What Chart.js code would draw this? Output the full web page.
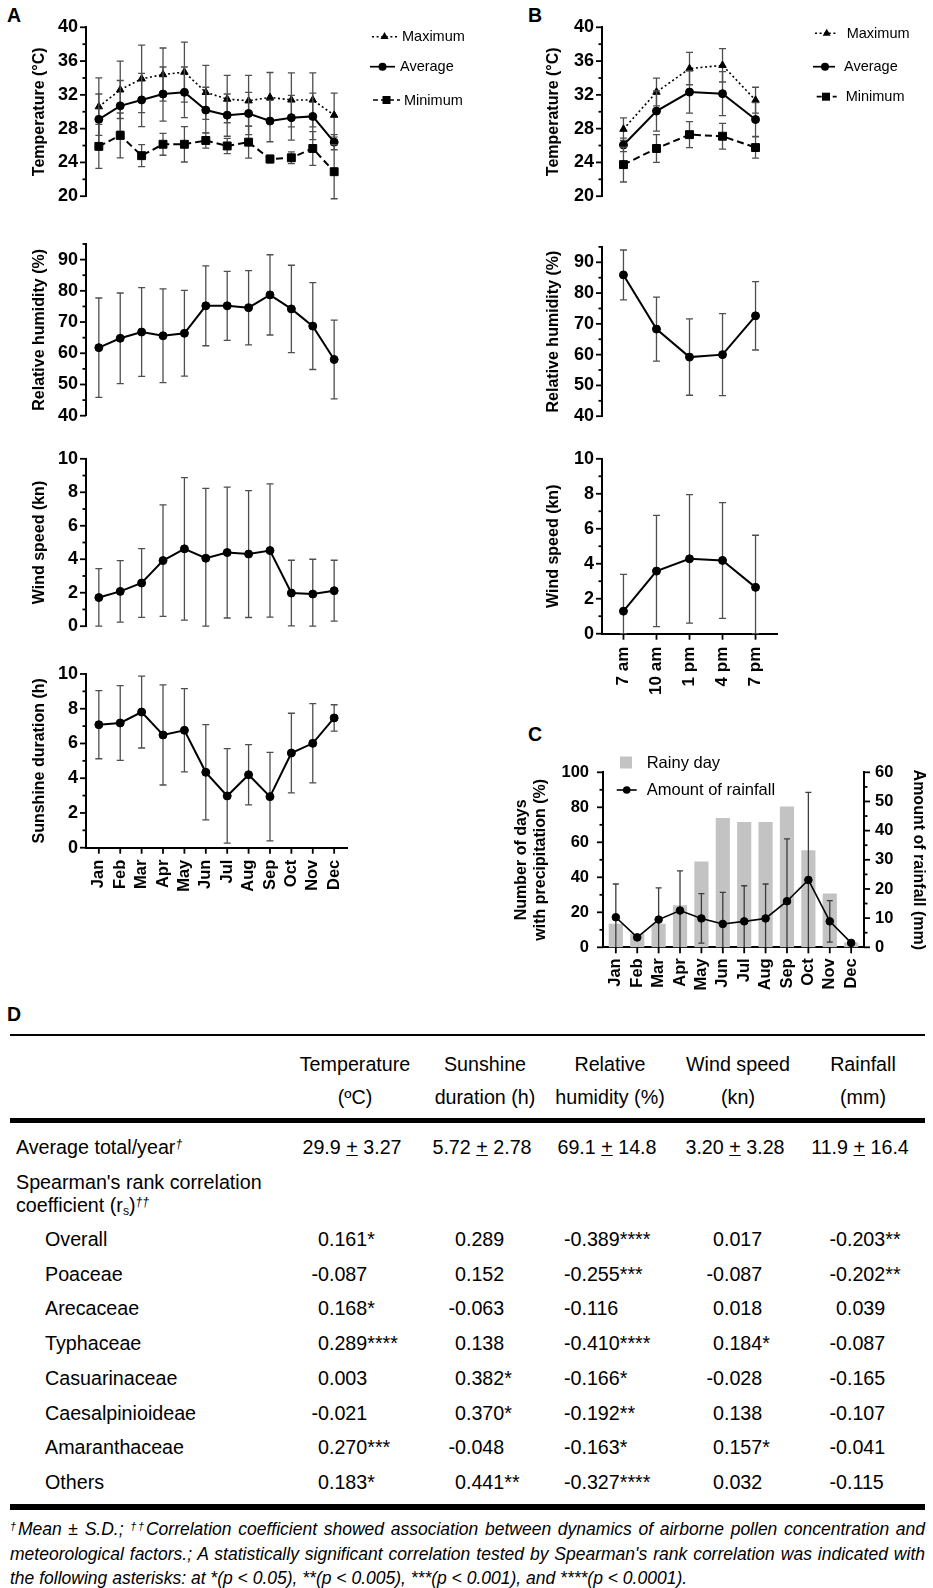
<!DOCTYPE html>
<html>
<head>
<meta charset="utf-8">
<title>Meteorological factors and pollen correlation</title>
<script src="https://cdn.jsdelivr.net/npm/chart.js@4.4.1/dist/chart.umd.min.js"></script>
<style>
  html, body { margin:0; padding:0; background:#fff; }
  body { position:relative; width:933px; height:1588px; overflow:hidden; font-family:"Liberation Sans", Arial, sans-serif; color:#000; }
  .box { position:absolute; }
  .box canvas { display:block; }
  .panel { position:absolute; font-weight:bold; font-size:19.5px; line-height:1; }
  .cell { position:absolute; font-size:19.7px; line-height:24px; white-space:nowrap; }
  .ctr { width:220px; text-align:center; }
  .rule { position:absolute; left:10px; width:915px; background:#000; }
  .neg { position:absolute; right:100%; top:0; }
  .note { position:absolute; left:10px; width:915px; font-size:17.5px; font-style:italic; line-height:24.5px; }
  .note div { text-align:justify; text-align-last:justify; }
  .note div.last { text-align-last:left; }
  sup.d { font-size:0.62em; vertical-align:0.5em; line-height:0; font-style:italic; }
  sub.s { font-size:0.62em; vertical-align:-0.25em; line-height:0; }
</style>
</head>
<body>
<div class="panel" style="left:7px;top:5.5px">A</div>
<div class="panel" style="left:528px;top:5.5px">B</div>
<div class="panel" style="left:528px;top:724.5px">C</div>
<div class="panel" style="left:7px;top:1004.5px">D</div>

<div class="box" style="left:0;top:0;width:470px;height:215px"><canvas id="aTemp"></canvas></div>
<div class="box" style="left:0;top:225px;width:470px;height:210px"><canvas id="aHum"></canvas></div>
<div class="box" style="left:0;top:440px;width:470px;height:205px"><canvas id="aWind"></canvas></div>
<div class="box" style="left:0;top:650px;width:470px;height:250px"><canvas id="aSun"></canvas></div>
<div class="box" style="left:470px;top:0;width:463px;height:215px"><canvas id="bTemp"></canvas></div>
<div class="box" style="left:470px;top:225px;width:463px;height:210px"><canvas id="bHum"></canvas></div>
<div class="box" style="left:470px;top:440px;width:463px;height:270px"><canvas id="bWind"></canvas></div>
<div class="box" style="left:470px;top:700px;width:463px;height:300px"><canvas id="cRain"></canvas></div>

<div id="tableD"></div>

<script>
// ---------------- DATA ----------------
const months = ['Jan','Feb','Mar','Apr','May','Jun','Jul','Aug','Sep','Oct','Nov','Dec'];
const hours = ['7 am','10 am','1 pm','4 pm','7 pm'];

// Panel A (monthly)
const monthTempMax   = [30.6, 32.6, 33.9, 34.4, 34.7, 32.3, 31.5, 31.3, 31.7, 31.4, 31.4, 29.6];
const monthTempMaxSd = [3.4, 3.4, 4.0, 3.15, 3.55, 3.2, 2.8, 3.0, 2.95, 3.2, 3.2, 2.6];
const monthTempAvg   = [29.1, 30.7, 31.4, 32.1, 32.3, 30.2, 29.6, 29.8, 28.9, 29.3, 29.45, 26.4];
const monthTempAvgSd = [3.0, 3.0, 3.15, 3.2, 3.0, 2.7, 2.5, 2.5, 2.45, 2.65, 2.75, 0.9];
const monthTempMin   = [25.9, 27.2, 24.8, 26.15, 26.15, 26.6, 25.95, 26.4, 24.4, 24.55, 25.65, 22.9];
const monthTempMinSd = [2.6, 2.65, 1.3, 1.3, 2.1, 0.9, 0.9, 1.9, 0.45, 0.7, 2.0, 3.2];
const monthHumidity   = [61.8, 64.8, 66.8, 65.6, 66.4, 75.2, 75.2, 74.6, 78.7, 74.2, 68.7, 58.0];
const monthHumiditySd = [15.9, 14.5, 14.2, 15.0, 13.75, 12.8, 11.05, 11.9, 12.85, 14.0, 13.9, 12.6];
const monthWind   = [1.71, 2.08, 2.58, 3.92, 4.62, 4.06, 4.40, 4.31, 4.52, 1.98, 1.92, 2.12];
const monthWindSd = [1.73, 1.84, 2.05, 3.33, 4.26, 4.17, 3.91, 3.79, 3.98, 1.96, 2.08, 1.82];
const monthSunshine   = [7.08, 7.18, 7.81, 6.49, 6.76, 4.34, 2.98, 4.20, 2.94, 5.45, 6.01, 7.47];
const monthSunshineSd = [1.96, 2.15, 2.07, 2.88, 2.40, 2.74, 2.72, 1.73, 2.55, 2.29, 2.28, 0.76];

// Panel B (time of day)
const hourTempMax   = [27.94, 32.33, 35.11, 35.5, 31.37];
const hourTempMaxSd = [1.33, 1.64, 1.91, 1.98, 1.53];
const hourTempAvg   = [26.07, 30.08, 32.33, 32.14, 29.08];
const hourTempAvgSd = [0.8, 2.38, 2.5, 2.6, 2.0];
const hourTempMin   = [23.74, 25.65, 27.29, 27.1, 25.76];
const hourTempMinSd = [2.06, 1.65, 1.53, 1.53, 1.26];
const hourHumidity   = [85.9, 68.3, 59.2, 60.0, 72.6];
const hourHumiditySd = [8.1, 10.4, 12.4, 13.3, 11.1];
const hourWind   = [1.29, 3.58, 4.28, 4.19, 2.65];
const hourWindSd = [2.1, 3.18, 3.67, 3.31, 2.98];

// Panel C (monthly precipitation)
const rainyDays  = [13.3, 7.6, 13.3, 23.8, 48.9, 73.7, 71.4, 71.4, 80.3, 55.2, 30.5, 2.5];
const rainfall   = [10.3, 3.4, 9.5, 12.6, 9.9, 8.0, 8.9, 9.9, 15.8, 23.1, 8.9, 1.5];
const rainfallSd = [11.4, 0, 10.9, 13.6, 8.5, 10.8, 12.2, 11.8, 21.4, 30.0, 7.1, 0];

// Panel D (table)
const tableHeadTop    = ['Temperature', 'Sunshine', 'Relative', 'Wind speed', 'Rainfall'];
const tableHeadBottom = ['(ºC)', 'duration (h)', 'humidity (%)', '(kn)', '(mm)'];
const annualMean = ['29.9', '5.72', '69.1', '3.20', '11.9'];
const annualSd   = ['3.27', '2.78', '14.8', '3.28', '16.4'];
const taxa = ['Overall', 'Poaceae', 'Arecaceae', 'Typhaceae', 'Casuarinaceae', 'Caesalpinioideae', 'Amaranthaceae', 'Others'];
const rsTemperature = ['0.161*', '-0.087', '0.168*', '0.289****', '0.003', '-0.021', '0.270***', '0.183*'];
const rsSunshine    = ['0.289', '0.152', '-0.063', '0.138', '0.382*', '0.370*', '-0.048', '0.441**'];
const rsHumidity    = ['-0.389****', '-0.255***', '-0.116', '-0.410****', '-0.166*', '-0.192**', '-0.163*', '-0.327****'];
const rsWind        = ['0.017', '-0.087', '0.018', '0.184*', '-0.028', '0.138', '0.157*', '0.032'];
const rsRainfall    = ['-0.203**', '-0.202**', '0.039', '-0.087', '-0.165', '-0.107', '-0.041', '-0.115'];

// ---------------- CHART HELPERS ----------------
const FONT = '"Liberation Sans", Arial, sans-serif';
Chart.defaults.font.family = FONT;
Chart.defaults.color = '#000';

function tickList(min, max, major, minor) {
  const out = [];
  const n = Math.round((max - min) / minor);
  for (let k = 0; k <= n; k++) {
    const v = +(min + k * minor).toFixed(6);
    out.push({ value: v, mj: Math.abs(v / major - Math.round(v / major)) < 1e-6 });
  }
  return out;
}

function yScale(o) {
  return {
    type: 'linear', position: o.position || 'left', min: o.min, max: o.max,
    afterBuildTicks: s => { s.ticks = tickList(o.min, o.max, o.major, o.minor); },
    afterFit: s => { s.width = o.width; },
    grid: { display: false, drawTicks: false },
    border: { display: true, color: '#000', width: 2 },
    ticks: {
      autoSkip: false, color: '#000', padding: o.pad,
      font: { family: FONT, size: o.font, weight: 'bold' },
      callback: (v, i, t) => (t[i] && t[i].mj) ? String(v) : ''
    },
    title: {
      display: true, text: o.title, color: '#000',
      font: { family: FONT, size: 16, weight: 'bold' },
      padding: { top: o.titlePad, bottom: 0 }
    }
  };
}

function xScale(o) {
  const sc = {
    type: 'linear', min: o.lo, max: o.hi, offset: false, display: o.display,
    afterBuildTicks: s => { s.ticks = o.labels.map((_, i) => ({ value: i, mj: true })); },
    grid: { display: false, drawTicks: false },
    border: { display: true, color: '#000', width: 2 },
    ticks: {
      autoSkip: false, maxRotation: 90, minRotation: 90, padding: o.pad || 10, color: '#000',
      font: { family: FONT, size: o.font || 16.5, weight: 'bold' },
      callback: v => o.labels[Math.round(v)] ?? ''
    }
  };
  if (o.display) sc.afterFit = s => { s.height = o.height; };
  return sc;
}

const pts = arr => arr.map((v, i) => ({ x: i, y: v }));

function lineSet(values, sd, style, extra) {
  return Object.assign({
    type: 'line', data: pts(values), sd: sd,
    borderColor: '#000', backgroundColor: '#000', borderWidth: 2,
    pointStyle: style, pointRadius: 4, pointBorderWidth: 1,
    pointBackgroundColor: '#000', pointBorderColor: '#000',
    tension: 0, clip: false
  }, extra || {});
}

function marker(ctx, style, x, y, r, color) {
  ctx.fillStyle = color || '#000';
  ctx.beginPath();
  if (style === 'circle') ctx.arc(x, y, r, 0, Math.PI * 2);
  else if (style === 'triangle') { ctx.moveTo(x, y - r * 1.15); ctx.lineTo(x + r, y + r * 0.6); ctx.lineTo(x - r, y + r * 0.6); ctx.closePath(); }
  else ctx.rect(x - r, y - r, 2 * r, 2 * r);
  ctx.fill();
}

const legendSpecs = {};

const deco = {
  id: 'deco',
  beforeDatasetDraw(chart, args) {
    const ds = chart.data.datasets[args.index];
    if (!ds.sd) return;
    const meta = args.meta, ys = chart.scales[meta.yAxisID], ctx = chart.ctx;
    ctx.save();
    ctx.strokeStyle = ds.errColor || '#4f4f4f';
    ctx.lineWidth = ds.errWidth || 1.3;
    ctx.setLineDash([]);
    const cap = ds.capHalf || 3.5;
    meta.data.forEach((el, i) => {
      const s = ds.sd[i];
      if (!s) return;
      const v = ds.data[i].y;
      let lo = v - s; const hi = v + s;
      let capLo = true;
      if (ds.floor !== undefined && lo < ds.floor) { lo = ds.floor; capLo = ds.floorCap !== false; }
      const x = el.x, yHi = ys.getPixelForValue(hi), yLo = ys.getPixelForValue(lo);
      ctx.beginPath();
      ctx.moveTo(x, yHi); ctx.lineTo(x, yLo);
      ctx.moveTo(x - cap, yHi); ctx.lineTo(x + cap, yHi);
      if (capLo) { ctx.moveTo(x - cap, yLo); ctx.lineTo(x + cap, yLo); }
      ctx.stroke();
    });
    ctx.restore();
  },
  afterDraw(chart) {
    const ctx = chart.ctx;
    ctx.save();
    ctx.strokeStyle = '#000'; ctx.lineWidth = 1.8; ctx.setLineDash([]);
    Object.values(chart.scales).forEach(s => {
      if (!s.options.display) return;
      s.ticks.forEach(t => {
        const len = t.mj ? 6 : 3.5;
        const p = s.getPixelForValue(t.value);
        ctx.beginPath();
        if (s.isHorizontal()) { ctx.moveTo(p, s.top); ctx.lineTo(p, s.top + len); }
        else if (s.position === 'left') { ctx.moveTo(s.right, p); ctx.lineTo(s.right - len, p); }
        else { ctx.moveTo(s.left, p); ctx.lineTo(s.left + len, p); }
        ctx.stroke();
      });
    });
    const lg = legendSpecs[chart.canvas.id];
    if (lg) {
      lg.items.forEach(it => {
        if (it.style === 'box') {
          ctx.fillStyle = it.color;
          ctx.fillRect(it.bx, it.y - it.r, 2 * it.r, 2 * it.r);
        } else {
          ctx.strokeStyle = '#000'; ctx.lineWidth = it.lw || 1.7;
          ctx.setLineDash(it.dash || []);
          ctx.beginPath(); ctx.moveTo(it.x0, it.y); ctx.lineTo(it.x1, it.y); ctx.stroke();
          ctx.setLineDash([]);
          marker(ctx, it.style, it.mx, it.y, it.r);
        }
        ctx.fillStyle = '#000';
        ctx.font = lg.font;
        ctx.textBaseline = 'middle'; ctx.textAlign = 'left';
        ctx.fillText(it.text, it.tx, it.y + 0.5);
      });
    }
    ctx.restore();
  }
};

function build(id, cfg) {
  const scales = { x: cfg.x, y: cfg.y };
  if (cfg.y1) scales.y1 = cfg.y1;
  if (cfg.legend) legendSpecs[id] = cfg.legend;
  return new Chart(document.getElementById(id), {
    type: 'line',
    data: { datasets: cfg.datasets },
    options: {
      responsive: true, maintainAspectRatio: false, animation: false, events: [],
      layout: { padding: cfg.padding },
      scales: scales,
      plugins: { legend: { display: false }, tooltip: { enabled: false } }
    },
    plugins: [deco]
  });
}

const tempStyles = {
  max: { borderDash: [2, 2.6], borderWidth: 1.6, pointStyle: 'triangle', pointRadius: 4.3 },
  avg: { borderWidth: 2, pointStyle: 'circle', pointRadius: 4 },
  min: { borderDash: [7, 4], borderWidth: 2, pointStyle: 'rect', pointRadius: 5.6 }
};
const legendFont = '14.5px ' + FONT;

// ---------------- PANEL A ----------------
const xMonthsHidden = () => xScale({ lo: -0.6, hi: 11.6, labels: months, display: false });

build('aTemp', {
  padding: { left: 0, top: 27.3, right: 123, bottom: 13 },
  x: xMonthsHidden(),
  y: yScale({ min: 20, max: 40, major: 4, minor: 2, width: 86, pad: 8, font: 18, title: 'Temperature (°C)', titlePad: 30.4 }),
  datasets: [
    lineSet(monthTempMin, monthTempMinSd, 'rect', tempStyles.min),
    lineSet(monthTempAvg, monthTempAvgSd, 'circle', tempStyles.avg),
    lineSet(monthTempMax, monthTempMaxSd, 'triangle', tempStyles.max)
  ],
  legend: { font: legendFont, items: [
    { text: 'Maximum', style: 'triangle', dash: [2, 2.6], lw: 1.5, x0: 372, x1: 397, mx: 384.5, r: 4, y: 36.7, tx: 402 },
    { text: 'Average', style: 'circle', x0: 370, x1: 395, mx: 382.5, r: 4, y: 66.7, tx: 400 },
    { text: 'Minimum', style: 'rect', dash: [5, 3], x0: 373, x1: 400, mx: 386.5, r: 4, y: 100, tx: 404 }
  ] }
});

build('aHum', {
  padding: { left: 0, top: 19, right: 123, bottom: 19.3 },
  x: xMonthsHidden(),
  y: yScale({ min: 40, max: 95, major: 10, minor: 5, width: 86, pad: 8, font: 18, title: 'Relative humidity (%)', titlePad: 30.4 }),
  datasets: [ lineSet(monthHumidity, monthHumiditySd, 'circle') ]
});

build('aWind', {
  padding: { left: 0, top: 18.3, right: 123, bottom: 13.3 },
  x: xMonthsHidden(),
  y: yScale({ min: 0, max: 10, major: 2, minor: 1, width: 86, pad: 8, font: 18, title: 'Wind speed (kn)', titlePad: 30.4 }),
  datasets: [ lineSet(monthWind, monthWindSd, 'circle', { floor: 0 }) ]
});

build('aSun', {
  padding: { left: 0, top: 24, right: 123, bottom: 0 },
  x: xScale({ lo: -0.6, hi: 11.6, labels: months, display: true, height: 52.3, pad: 12, font: 16.5 }),
  y: yScale({ min: 0, max: 10, major: 2, minor: 1, width: 86, pad: 8, font: 18, title: 'Sunshine duration (h)', titlePad: 30.4 }),
  datasets: [ lineSet(monthSunshine, monthSunshineSd, 'circle', { floor: 0 }) ]
});

// ---------------- PANEL B ----------------
const xHoursHidden = () => xScale({ lo: -0.65, hi: 4.65, labels: hours, display: false });

build('bTemp', {
  padding: { left: 0, top: 27.3, right: 156, bottom: 13 },
  x: xHoursHidden(),
  y: yScale({ min: 20, max: 40, major: 4, minor: 2, width: 132, pad: 8, font: 18, title: 'Temperature (°C)', titlePad: 73.7 }),
  datasets: [
    lineSet(hourTempMin, hourTempMinSd, 'rect', tempStyles.min),
    lineSet(hourTempAvg, hourTempAvgSd, 'circle', tempStyles.avg),
    lineSet(hourTempMax, hourTempMaxSd, 'triangle', tempStyles.max)
  ],
  legend: { font: legendFont, items: [
    { text: 'Maximum', style: 'triangle', dash: [2, 2.6], lw: 1.5, x0: 345, x1: 366.7, mx: 356.7, r: 4, y: 33.3, tx: 376.7 },
    { text: 'Average', style: 'circle', x0: 343, x1: 365, mx: 355, r: 4, y: 66.7, tx: 374 },
    { text: 'Minimum', style: 'rect', dash: [5, 3], x0: 346.7, x1: 366.7, mx: 356, r: 4, y: 96.7, tx: 375.7 }
  ] }
});

build('bHum', {
  padding: { left: 0, top: 21.9, right: 156, bottom: 18.3 },
  x: xHoursHidden(),
  y: yScale({ min: 40, max: 95, major: 10, minor: 5, width: 132, pad: 8, font: 18, title: 'Relative humidity (%)', titlePad: 73.7 }),
  datasets: [ lineSet(hourHumidity, hourHumiditySd, 'circle') ]
});

build('bWind', {
  padding: { left: 0, top: 17.7, right: 156, bottom: 0 },
  x: xScale({ lo: -0.65, hi: 4.65, labels: hours, display: true, height: 76.3, pad: 13, font: 17 }),
  y: yScale({ min: 0, max: 10, major: 2, minor: 1, width: 132, pad: 8, font: 18, title: 'Wind speed (kn)', titlePad: 73.7 }),
  datasets: [ lineSet(hourWind, hourWindSd, 'circle', { floor: 0 }) ]
});

// ---------------- PANEL C ----------------
build('cRain', {
  padding: { left: 0, top: 72.3, right: 0, bottom: 0 },
  x: xScale({ lo: -0.6, hi: 11.6, labels: months, display: true, height: 52.7, pad: 11, font: 16.5 }),
  y: yScale({ min: 0, max: 100, major: 20, minor: 10, width: 133, pad: 14, font: 16.5, title: ['Number of days', 'with precipitation (%)'], titlePad: 42 }),
  y1: yScale({ position: 'right', min: 0, max: 60, major: 10, minor: 5, width: 69, pad: 11, font: 16.5, title: 'Amount of rainfall (mm)', titlePad: 5.4 }),
  datasets: [
    { type: 'bar', data: pts(rainyDays), yAxisID: 'y', backgroundColor: '#c3c3c3', borderWidth: 0, barThickness: 13.5, order: 2 },
    lineSet(rainfall, rainfallSd, 'circle', { yAxisID: 'y1', order: 1, borderWidth: 1.6, pointRadius: 3.8, capHalf: 3, floor: 0, floorCap: false, errColor: '#3c3c3c' })
  ],
  legend: { font: '16.5px ' + FONT, items: [
    { text: 'Rainy day', style: 'box', color: '#c3c3c3', bx: 150, r: 6, y: 62.5, tx: 176.7 },
    { text: 'Amount of rainfall', style: 'circle', lw: 1.6, x0: 146.7, x1: 166.7, mx: 156.7, r: 3.8, y: 90, tx: 176.7 }
  ] }
});

// ---------------- PANEL D (table) ----------------
const tbl = document.getElementById('tableD');
function add(html, style, cls) {
  const d = document.createElement('div');
  d.className = cls || 'cell';
  d.setAttribute('style', style);
  d.innerHTML = html;
  tbl.appendChild(d);
  return d;
}
const colCenter = [355, 485, 610, 738, 863];
const colZero = [318, 455, 570.5, 713, 836];
const textTop = cy => (cy - 12) + 'px';

add('', 'top:1034px;height:2px', 'rule');
add('', 'top:1117.5px;height:5px', 'rule');
add('', 'top:1504px;height:6px', 'rule');

tableHeadTop.forEach((t, i) => add(t, `left:${colCenter[i] - 110}px;top:${textTop(1064)}`, 'cell ctr'));
tableHeadBottom.forEach((t, i) => add(t, `left:${colCenter[i] - 110}px;top:${textTop(1097)}`, 'cell ctr'));

add('Average total/year<sup class="d">†</sup>', `left:16px;top:${textTop(1147)}`);
annualMean.forEach((m, i) => add(`${m} <u>+</u> ${annualSd[i]}`, `left:${colCenter[i] - 3 - 110}px;top:${textTop(1147)}`, 'cell ctr'));

add("Spearman's rank correlation", `left:16px;top:${textTop(1182)}`);
add('coefficient (r<sub class="s">s</sub>)<sup class="d">††</sup>', `left:16px;top:${textTop(1205)}`);

const rsColumns = [rsTemperature, rsSunshine, rsHumidity, rsWind, rsRainfall];
taxa.forEach((name, r) => {
  const cy = 1239 + r * 34.7;
  add(name, `left:45px;top:${textTop(cy)}`);
  rsColumns.forEach((col, c) => {
    const v = col[r];
    const html = v.charAt(0) === '-' ? '<span class="neg">-</span>' + v.slice(1) : v;
    add(html, `left:${colZero[c]}px;top:${textTop(cy)}`);
  });
});

const note = document.createElement('div');
note.className = 'note';
note.style.top = '1517px';
note.innerHTML =
  '<div><sup class="d">†</sup>Mean ± S.D.; <sup class="d">††</sup>Correlation coefficient showed association between dynamics of airborne pollen concentration and</div>' +
  "<div>meteorological factors.; A statistically significant correlation tested by Spearman's rank correlation was indicated with</div>" +
  '<div class="last">the following asterisks: at *(p &lt; 0.05), **(p &lt; 0.005), ***(p &lt; 0.001), and ****(p &lt; 0.0001).</div>';
tbl.appendChild(note);
</script>
</body>
</html>
